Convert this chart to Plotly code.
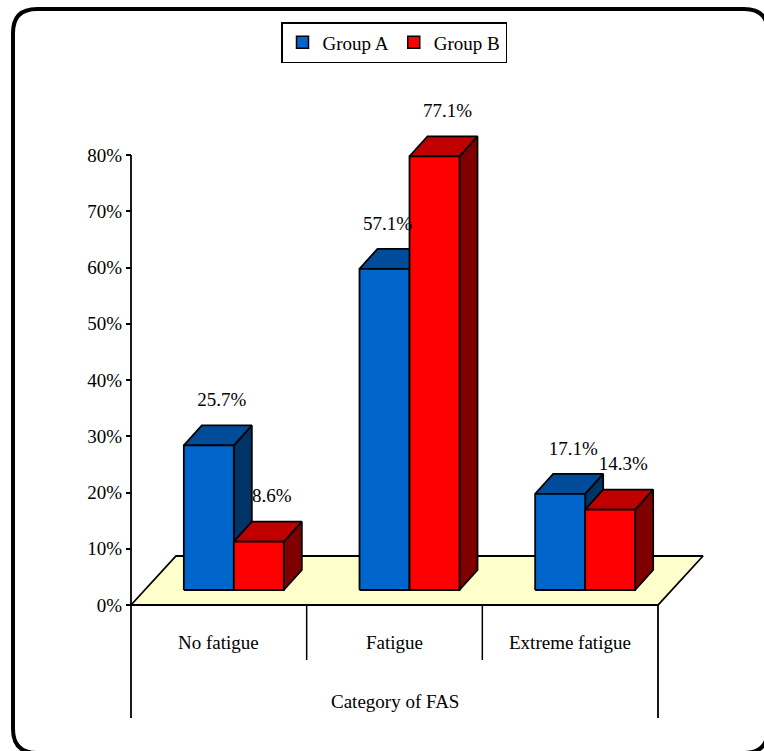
import plotly.graph_objects as go

# ---------------- data ----------------
categories = ["No fatigue", "Fatigue", "Extreme fatigue"]
series_names = ["Group A", "Group B"]
group_a = [25.7, 57.1, 17.1]
group_b = [8.6, 77.1, 14.3]
y_tick_values = [0, 10, 20, 30, 40, 50, 60, 70, 80]
y_tick_labels = [f"{v}%" for v in y_tick_values]
x_title = "Category of FAS"

# ---------------- styling / geometry ----------------
W, H = 764, 751
X0_PX, X3_PX = 131, 658          # pixel of category axis start / end
Y0_PX, Y80_PX = 605, 155         # pixel of 0% / 80%
PX_X = (X3_PX - X0_PX) / len(categories)
PX_Y = (Y0_PX - Y80_PX) / 80.0


def ux(px):
    return px / PX_X


def uy(px):
    return px / PX_Y


BAR_W = ux(50)
SHIFT_X, SHIFT_Y = ux(15), uy(15)
DEPTH_X, DEPTH_Y = ux(18), uy(20)
FLOOR_X, FLOOR_Y = ux(45), uy(49)
FONT = dict(family="Liberation Serif", size=19, color="black")
EDGE = dict(color="black", width=1.8)

colors = {
    "Group A": dict(front="#0066CC", top="#004C9A", side="#003366"),
    "Group B": dict(front="#FF0000", top="#C00000", side="#800000"),
}

fig = go.Figure()

# floor
nc = len(categories)
fig.add_trace(go.Scatter(
    x=[0, nc, nc + FLOOR_X, FLOOR_X, 0],
    y=[0, 0, FLOOR_Y, FLOOR_Y, 0],
    mode="lines", fill="toself", fillcolor="#FFFFCC", line=EDGE,
    hoverinfo="skip", showlegend=False))


def faces(values, offset_sign):
    fx, fy, tx, ty, sx, sy = [], [], [], [], [], []
    for i, v in enumerate(values):
        c = i + 0.5 + SHIFT_X
        left = c - BAR_W if offset_sign < 0 else c
        right = left + BAR_W
        b = SHIFT_Y
        t = SHIFT_Y + v
        fx += [left, right, right, left, left, None]
        fy += [b, b, t, t, b, None]
        tx += [left, right, right + DEPTH_X, left + DEPTH_X, left, None]
        ty += [t, t, t + DEPTH_Y, t + DEPTH_Y, t, None]
        sx += [right, right + DEPTH_X, right + DEPTH_X, right, right, None]
        sy += [b, b + DEPTH_Y, t + DEPTH_Y, t, b, None]
    return (fx, fy), (tx, ty), (sx, sy)


label_x, label_y, label_t = [], [], []
for name, vals, other, sign in [("Group A", group_a, group_b, -1),
                                ("Group B", group_b, None, 1)]:
    front, top, side = faces(vals, sign)
    col = colors[name]
    for (xx, yy), fc in [(side, col["side"]), (top, col["top"]), (front, col["front"])]:
        fig.add_trace(go.Scatter(x=xx, y=yy, mode="lines", fill="toself",
                                 fillcolor=fc, line=EDGE, hoverinfo="skip",
                                 showlegend=False))
    for i, v in enumerate(vals):
        c = i + 0.5 + SHIFT_X + sign * BAR_W / 2
        # label sits above the bar; nudged less when the neighbour bar is taller
        blocked = other is not None and other[i] > v
        label_x.append(c + ux(3 if blocked else 13))
        label_y.append(SHIFT_Y + v + DEPTH_Y + uy(24))
        label_t.append(f"{v:.1f}%")

fig.add_trace(go.Scatter(x=label_x, y=label_y, text=label_t, mode="text",
                         textposition="middle center", textfont=FONT,
                         hoverinfo="skip", showlegend=False))

# legend entries
for name in series_names:
    fig.add_trace(go.Scatter(x=[None], y=[None], mode="markers", name=name,
                             marker=dict(symbol="square", size=12,
                                         color=colors[name]["front"],
                                         line=dict(color="black", width=1.5))))

# category box lines
y_box_bottom = -uy(718 - Y0_PX)
y_div_bottom = -uy(660 - Y0_PX)
shapes = [
    dict(type="line", xref="x", yref="y", x0=0, x1=0, y0=80, y1=y_box_bottom,
         line=dict(color="black", width=1.8)),
    dict(type="line", xref="x", yref="y", x0=nc, x1=nc, y0=0, y1=y_box_bottom,
         line=dict(color="black", width=1.8)),
    dict(type="line", xref="x", yref="y", x0=0, x1=nc, y0=0, y1=0,
         line=dict(color="black", width=1.8)),
]
for k in range(1, nc):
    shapes.append(dict(type="line", xref="x", yref="y", x0=k, x1=k, y0=0,
                       y1=y_div_bottom, line=dict(color="black", width=1.5)))

# rounded outer border (paper coords)
L, T, R, B, r = 13, 9, 768, 753, 24


def P(x, y):
    return f"{x / W:.5f},{1 - y / H:.5f}"


path = (f"M{P(L, T + r)} Q{P(L, T)} {P(L + r, T)} L{P(R - r, T)} Q{P(R, T)} {P(R, T + r)} "
        f"L{P(R, B - r)} Q{P(R, B)} {P(R - r, B)} L{P(L + r, B)} Q{P(L, B)} {P(L, B - r)} Z")
shapes.append(dict(type="path", xref="paper", yref="paper", path=path,
                   line=dict(color="black", width=4)))

annotations = []
for i, c in enumerate(categories):
    annotations.append(dict(x=i + 0.5, y=-uy(642 - Y0_PX), xref="x", yref="y",
                            text=c, showarrow=False, font=FONT))
annotations.append(dict(x=nc / 2, y=-uy(701 - Y0_PX), xref="x", yref="y",
                        text=x_title, showarrow=False, font=FONT))

fig.update_layout(
    width=W, height=H,
    margin=dict(l=0, r=0, t=0, b=0),
    paper_bgcolor="white", plot_bgcolor="white",
    xaxis=dict(range=[-ux(X0_PX), ux(W - X0_PX)], visible=False, fixedrange=True),
    yaxis=dict(range=[-uy(H - Y0_PX), uy(Y0_PX)], tickvals=y_tick_values,
               ticktext=y_tick_labels, ticks="outside", ticklen=5, tickwidth=1.5,
               tickcolor="black", showgrid=False, zeroline=False, showline=False,
               anchor="free", position=X0_PX / W, tickfont=FONT, fixedrange=True),
    showlegend=True,
    legend=dict(orientation="h", x=394 / W, xanchor="center", y=1 - 22 / H,
                yanchor="top", bgcolor="white", bordercolor="black", borderwidth=1.5,
                font=FONT, itemwidth=30, valign="middle"),
    shapes=shapes,
    annotations=annotations,
)

fig.write_html("out.html")
